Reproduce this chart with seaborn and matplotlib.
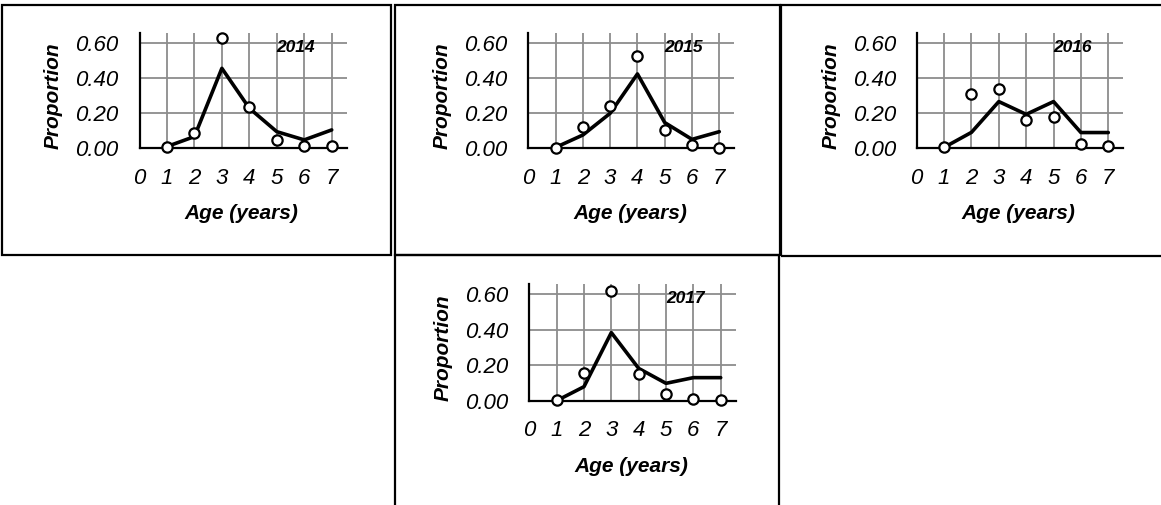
import matplotlib
matplotlib.use("Agg")
import matplotlib.pyplot as plt
import seaborn as sns
import pandas as pd
from matplotlib.patches import Rectangle

# ---- data ----
years = ["2014", "2015", "2016", "2017"]
ages = [1, 2, 3, 4, 5, 6, 7]
obs_2014 = [0.005, 0.085, 0.63, 0.235, 0.048, 0.012, 0.012]
fit_2014 = [0.01, 0.067, 0.457, 0.229, 0.095, 0.048, 0.105]
obs_2015 = [0.004, 0.12, 0.242, 0.53, 0.105, 0.017, 0.004]
fit_2015 = [0.005, 0.076, 0.20, 0.425, 0.147, 0.051, 0.095]
obs_2016 = [0.006, 0.309, 0.341, 0.162, 0.177, 0.025, 0.013]
fit_2016 = [0.005, 0.091, 0.267, 0.194, 0.267, 0.09, 0.09]
obs_2017 = [0.004, 0.158, 0.62, 0.15, 0.036, 0.009, 0.004]
fit_2017 = [0.0, 0.079, 0.384, 0.182, 0.098, 0.13, 0.13]
x_ticks = [0, 1, 2, 3, 4, 5, 6, 7]
y_ticks = [0.0, 0.2, 0.4, 0.6]
y_tick_labels = ["0.00", "0.20", "0.40", "0.60"]

obs = [obs_2014, obs_2015, obs_2016, obs_2017]
fit = [fit_2014, fit_2015, fit_2016, fit_2017]

sns.set_style("white")
plt.rcParams["font.family"] = ["Liberation Sans", "DejaVu Sans"]
for k in ["text.color", "axes.labelcolor", "xtick.color", "ytick.color"]:
    plt.rcParams[k] = "black"

W, H = 1161, 505
fig = plt.figure(figsize=(W / 100, H / 100), dpi=100)

XMAX, YMAX = 7.55, 0.66
# pixel anchors: (x at age0, x at age7, y at 0, y at 0.6)
anchors = [
    (139.5, 331.7, 148.3, 43.3),
    (528.3, 719.3, 148.3, 43.3),
    (916.7, 1108.3, 148.3, 43.3),
    (529.3, 720.7, 400.7, 294.3),
]
# panel borders in pixels: (x0, y0, x1, y1)
borders = [
    (2, 4.5, 391.5, 255),
    (394.5, 4.5, 780, 255),
    (781, 4.5, 1163, 256),
    (394.5, 255, 779, 507),
]

for (bx0, by0, bx1, by1) in borders:
    fig.patches.append(Rectangle((bx0 / W, 1 - by1 / H), (bx1 - bx0) / W, (by1 - by0) / H,
                                 transform=fig.transFigure, fill=False,
                                 edgecolor="black", linewidth=1.6, zorder=0))

for i, yr in enumerate(years):
    x0, x7, y0, y6 = anchors[i]
    ux = (x7 - x0) / 7
    uy = (y0 - y6) / 0.6
    left = x0
    right = x0 + XMAX * ux
    top = y0 - YMAX * uy
    ax = fig.add_axes([left / W, 1 - y0 / H, (right - left) / W, (y0 - top) / H])
    df = pd.DataFrame({"age": ages, "obs": obs[i], "fit": fit[i]})
    sns.lineplot(data=df, x="age", y="fit", ax=ax, color="black", linewidth=2.6, zorder=3)
    sns.scatterplot(data=df, x="age", y="obs", ax=ax, marker="o", s=55,
                    facecolor="white", edgecolor="black", linewidth=1.6, zorder=4, clip_on=False)
    ax.set_xlim(0, XMAX)
    ax.set_ylim(0, YMAX)
    ax.set_xticks(x_ticks)
    ax.set_xticklabels([str(t) for t in x_ticks], fontstyle="italic", fontsize=16)
    ax.set_yticks(y_ticks)
    ax.set_yticklabels(y_tick_labels, fontstyle="italic", fontsize=16)
    ax.grid(True, color="#8c8c8c", linewidth=1.3)
    ax.set_axisbelow(True)
    for s in ["top", "right"]:
        ax.spines[s].set_visible(False)
    for s in ["left", "bottom"]:
        ax.spines[s].set_color("black")
        ax.spines[s].set_linewidth(1.6)
    ax.tick_params(axis="both", direction="out", length=5, width=1.4, color="black")
    ax.tick_params(axis="x", pad=9)
    ax.tick_params(axis="y", pad=10)
    ax.set_xlabel("Age (years)", fontstyle="italic", fontweight="bold", fontsize=15)
    ax.set_ylabel("Proportion", fontstyle="italic", fontweight="bold", fontsize=15)
    ax.xaxis.set_label_coords(0.493, -0.48)
    ax.yaxis.set_label_coords(-0.37, 0.455)
    ax.text(5.7, 0.575, yr, ha="center", va="center", fontstyle="italic",
            fontweight="bold", fontsize=12.5)
    ax.set_facecolor("none")

fig.savefig("out.png", dpi=100)
